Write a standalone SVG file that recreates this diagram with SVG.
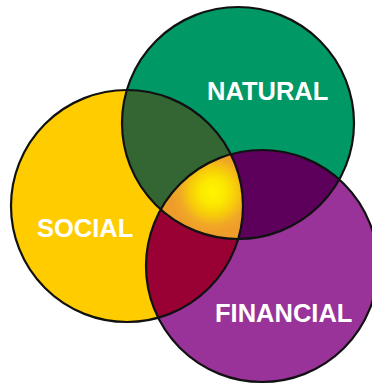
<svg xmlns="http://www.w3.org/2000/svg" width="372" height="386" viewBox="0 0 372 386">
  <style>
    .ring { fill: none; stroke: #111; stroke-width: 2.2; }
    .lbl { font-family: "Liberation Sans", Arial, sans-serif; font-weight: bold; font-size: 25.5px; fill: #ffffff; }
  </style>
  <defs>
    <clipPath id="clipG"><circle cx="238" cy="123" r="116"/></clipPath>
    <clipPath id="clipY"><circle cx="127" cy="206" r="116"/></clipPath>
    <clipPath id="clipP"><circle cx="262" cy="266" r="116"/></clipPath>
    <radialGradient id="sun" gradientUnits="userSpaceOnUse" cx="213" cy="192" r="42">
      <stop offset="0" stop-color="#fff500"/>
      <stop offset="0.3" stop-color="#fbe800"/>
      <stop offset="0.55" stop-color="#f7cc0a"/>
      <stop offset="0.8" stop-color="#f0a826"/>
      <stop offset="1" stop-color="#ee9c2a"/>
    </radialGradient>
  </defs>
  <rect width="372" height="386" fill="#ffffff"/>

  <g id="social">
    <circle cx="127" cy="206" r="116" fill="#ffcc00"/>
  </g>
  <g id="natural">
    <circle cx="238" cy="123" r="116" fill="#009966"/>
  </g>
  <g id="financial">
    <circle cx="262" cy="266" r="116" fill="#993399"/>
  </g>

  <g id="overlaps">
    <g clip-path="url(#clipY)"><circle cx="238" cy="123" r="116" fill="#336633"/></g>
    <g clip-path="url(#clipG)"><circle cx="262" cy="266" r="116" fill="#5c005c"/></g>
    <g clip-path="url(#clipY)"><circle cx="262" cy="266" r="116" fill="#990033"/></g>
    <g clip-path="url(#clipY)"><g clip-path="url(#clipG)"><circle cx="262" cy="266" r="116" fill="url(#sun)"/></g></g>
  </g>

  <g id="outlines">
    <circle class="ring" cx="127" cy="206" r="116"/>
    <circle class="ring" cx="238" cy="123" r="116"/>
    <circle class="ring" cx="262" cy="266" r="116"/>
  </g>

  <g id="labels">
    <text class="lbl" x="207" y="100">NATURAL</text>
    <text class="lbl" x="37" y="237">SOCIAL</text>
    <text class="lbl" x="215" y="322">FINANCIAL</text>
  </g>
</svg>
